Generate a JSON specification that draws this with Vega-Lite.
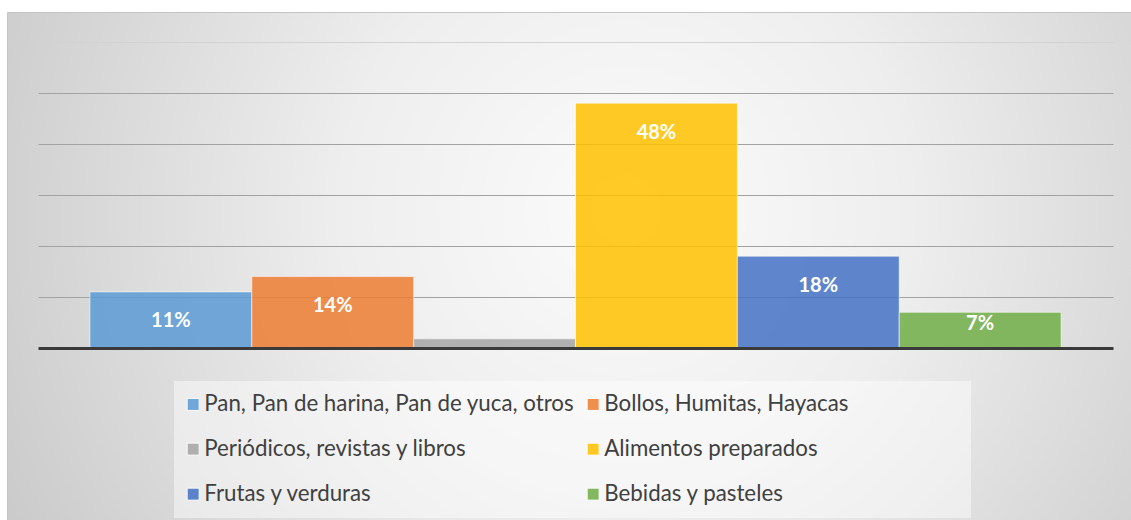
{
  "$schema": "https://vega.github.io/schema/vega-lite/v6.json",
  "width": 1124,
  "height": 508,
  "autosize": {"type": "none"},
  "padding": {"left": 7, "top": 12, "right": 0, "bottom": 0},
  "background": "#ffffff",
  "view": {
    "fill": {
      "gradient": "radial",
      "x1": 0.55, "y1": 0.45, "r1": 0,
      "x2": 0.55, "y2": 0.45, "r2": 0.72,
      "stops": [
        {"offset": 0, "color": "#fbfbfb"},
        {"offset": 0.35, "color": "#eeeeee"},
        {"offset": 1, "color": "#c0c0c0"}
      ]
    },
    "stroke": "#c4c4c4",
    "strokeWidth": 1
  },
  "data": {
    "values": [
      {"cat": "Pan, Pan de harina, Pan de yuca, otros", "value": 0.11},
      {"cat": "Bollos, Humitas, Hayacas", "value": 0.14},
      {"cat": "Periódicos, revistas y libros", "value": 0.018},
      {"cat": "Alimentos preparados", "value": 0.48},
      {"cat": "Frutas y verduras", "value": 0.18},
      {"cat": "Bebidas y pasteles", "value": 0.07}
    ]
  },
  "encoding": {
    "x": {
      "field": "cat",
      "type": "nominal",
      "sort": null,
      "scale": {"range": [31, 1106], "paddingInner": 0, "paddingOuter": 0.321},
      "axis": {
        "title": null,
        "labels": false,
        "ticks": false,
        "grid": false,
        "domain": true,
        "domainColor": "#3a3a3a",
        "domainWidth": 3,
        "offset": -172,
        "zindex": 1
      }
    },
    "y": {
      "field": "value",
      "type": "quantitative",
      "scale": {"domain": [0, 0.6], "range": [336, 30], "nice": false, "zero": true},
      "axis": {
        "title": null,
        "labels": false,
        "ticks": false,
        "domain": false,
        "grid": true,
        "values": [0.1, 0.2, 0.3, 0.4, 0.5, 0.6],
        "gridColor": {"condition": {"test": "datum.value >= 0.6", "value": "#d2d2d2"}, "value": "#a2a2a2"},
        "gridWidth": 1
      }
    }
  },
  "layer": [
    {
      "mark": {"type": "bar", "fillOpacity": 0.85, "stroke": "#ffffff", "strokeOpacity": 0.55, "strokeWidth": 1},
      "encoding": {
        "color": {
          "field": "cat",
          "type": "nominal",
          "sort": null,
          "scale": {
            "domain": [
              "Pan, Pan de harina, Pan de yuca, otros",
              "Bollos, Humitas, Hayacas",
              "Periódicos, revistas y libros",
              "Alimentos preparados",
              "Frutas y verduras",
              "Bebidas y pasteles"
            ],
            "range": ["#5B9BD5", "#ED7D31", "#A5A5A5", "#FFC000", "#4472C4", "#70AD47"]
          },
          "legend": {
            "orient": "none",
            "direction": "horizontal",
            "legendX": 167,
            "legendY": 369,
            "columns": 2,
            "title": " ",
            "titleOrient": "right",
            "titleFontSize": 1,
            "titlePadding": 111,
            "symbolType": "square",
            "symbolSize": 144,
            "symbolOffset": -4,
            "symbolOpacity": 0.85,
            "symbolStrokeColor": "#ffffff",
            "symbolStrokeWidth": 1,
            "labelFont": "Lato",
            "labelFontSize": 22.3,
            "labelColor": "#404040",
            "labelOffset": 0,
            "labelLimit": 600,
            "padding": 12,
            "rowPadding": 22,
            "columnPadding": 10,
            "fillColor": "rgba(255,255,255,0.45)"
          }
        }
      }
    },
    {
      "transform": [{"filter": "datum.value >= 0.1"}],
      "mark": {"type": "text", "dy": 29.5, "baseline": "middle", "align": "center", "font": "Lato", "fontWeight": "bold", "fontSize": 20, "color": "#ffffff"},
      "encoding": {"text": {"field": "value", "type": "quantitative", "format": ".0%"}}
    },
    {
      "transform": [{"filter": "datum.value > 0.05 && datum.value < 0.1"}],
      "mark": {"type": "text", "dy": 11.5, "baseline": "middle", "align": "center", "font": "Lato", "fontWeight": "bold", "fontSize": 20, "color": "#ffffff"},
      "encoding": {"text": {"field": "value", "type": "quantitative", "format": ".0%"}}
    }
  ]
}
